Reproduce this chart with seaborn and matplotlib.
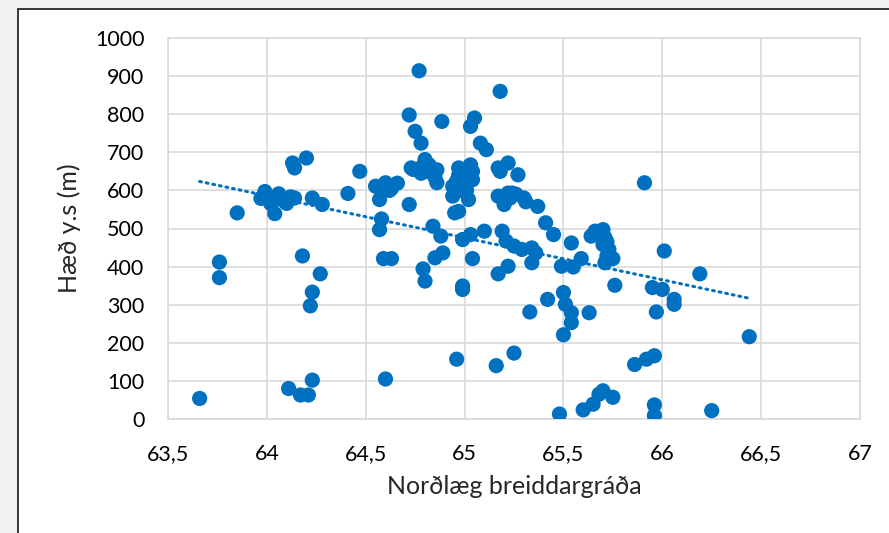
import numpy as np
import matplotlib
matplotlib.use("Agg")
import matplotlib.pyplot as plt
from matplotlib.ticker import FuncFormatter, MultipleLocator
from matplotlib.patches import Rectangle
import seaborn as sns

# ── Data ──────────────────────────────────────────────────
lat = [
    63.66, 63.76, 63.76, 63.85,
    63.97, 63.99, 64.02, 64.04, 64.06, 64.08, 64.10, 64.12, 64.14,
    64.13, 64.14, 64.20, 64.23, 64.28, 64.18, 64.27, 64.23, 64.22,
    64.11, 64.17, 64.21, 64.23, 64.41, 64.47,
    64.55, 64.57, 64.58, 64.60, 64.62, 64.66, 64.58, 64.57, 64.59, 64.63, 64.60,
    64.72, 64.77, 64.75, 64.78, 64.80, 64.73, 64.76, 64.82, 64.86, 64.78,
    64.86, 64.85, 64.72, 64.885, 64.84, 64.88, 64.79, 64.80, 64.85, 64.89,
    64.97, 64.94, 64.94, 64.97, 64.99, 64.97, 64.95, 64.99, 64.99, 64.96, 64.99,
    65.03, 65.04, 65.02, 65.01, 65.03, 65.10, 65.04, 65.05, 65.03, 65.08, 65.11,
    65.18, 65.17, 65.22, 65.27, 65.17, 65.20, 65.22, 65.24, 65.30, 65.31,
    65.37, 65.41, 65.45, 65.19, 65.21, 65.25, 65.29, 65.34, 65.36, 65.34,
    65.22, 65.17, 65.33, 65.42, 65.16, 65.25, 65.48,
    65.54, 65.49, 65.55, 65.59, 65.50, 65.51, 65.54, 65.54, 65.50, 65.63,
    65.66, 65.70, 65.64, 65.71, 65.70, 65.73, 65.72, 65.75, 65.71, 65.76,
    65.91, 65.95, 66.00, 65.97, 65.86, 65.92, 65.96,
    65.60, 65.65, 65.70, 65.75, 65.68, 65.96, 65.96,
    66.01, 66.06, 66.06, 66.19, 66.25, 66.44,
    # points hidden inside the dense clusters
    64.00, 64.05, 64.09, 64.59, 64.63, 64.74, 64.79, 64.81, 64.84, 64.96,
    64.98, 65.00, 65.02, 65.04, 65.18, 65.23, 65.26, 65.68, 65.72,
]
height = [
    54, 412, 371, 541,
    579, 597, 565, 539, 591, 575, 566, 583, 580,
    672, 659, 685, 580, 563, 428, 381, 333, 297,
    80, 63, 63, 102, 592, 650,
    611, 576, 598, 620, 600, 619, 525, 497, 421, 421, 105,
    798, 914, 755, 724, 681, 659, 654, 667, 654, 645,
    620, 635, 563, 781, 506, 480, 394, 362, 423, 436,
    659, 611, 585, 640, 620, 545, 541, 349, 340, 157, 471,
    667, 628, 576, 600, 484, 493, 421, 790, 768, 724, 707,
    860, 659, 672, 641, 585, 563, 593, 593, 580, 570,
    558, 515, 484, 493, 467, 454, 445, 449, 436, 410,
    401, 381, 281, 314, 140, 173, 13,
    462, 401, 399, 421, 332, 301, 279, 253, 221, 279,
    493, 497, 480, 476, 458, 445, 428, 421, 410, 351,
    620, 345, 340, 281, 143, 157, 166,
    24, 39, 74, 57, 65, 37, 9,
    441, 314, 301, 381, 22, 216,
    585, 580, 572, 608, 605, 655, 665, 650, 645, 625,
    600, 615, 640, 650, 650, 580, 590, 488, 465,
]

x_ticks = [63.5, 64, 64.5, 65, 65.5, 66, 66.5, 67]
y_ticks = list(range(0, 1001, 100))

BLUE = "#0070C0"
GRID = "#D9D9D9"

sns.set_theme(style="whitegrid")
plt.rcParams["font.family"] = ["Lato", "DejaVu Sans"]

fig = plt.figure(figsize=(8.89, 5.33), dpi=100, facecolor="#F2F2F2")
# white chart area with dark frame
fig.patches.append(Rectangle((18 / 889, -0.05), 1.0, 1 - 8.5 / 533 + 0.05,
                             transform=fig.transFigure, facecolor="white",
                             edgecolor="#262626", linewidth=1.3, zorder=-10))

ax = fig.add_axes([168 / 889, 1 - 419 / 533, (860 - 168) / 889, (419 - 38) / 533])
ax.set_facecolor("white")

sns.scatterplot(x=lat, y=height, ax=ax, color=BLUE, s=120, edgecolor="none",
                linewidth=0, alpha=1, zorder=3)

# linear trendline (as Excel does: from min x to max x)
xa = np.array(lat)
k, m = np.polyfit(xa, np.array(height), 1)
xs = np.array([xa.min(), xa.max()])
ax.plot(xs, k * xs + m, color=BLUE, lw=2.2, linestyle=(0, (0.6, 1.6)),
        dash_capstyle="round", zorder=2)

ax.set_xlim(63.5, 67)
ax.set_ylim(0, 1000)
ax.xaxis.set_major_locator(MultipleLocator(0.5))
ax.yaxis.set_major_locator(MultipleLocator(100))
ax.xaxis.set_major_formatter(FuncFormatter(lambda v, p: f"{v:g}".replace(".", ",")))
ax.yaxis.set_major_formatter(FuncFormatter(lambda v, p: f"{v:.0f}"))
ax.grid(True, color=GRID, linewidth=1.2)
for s in ax.spines.values():
    s.set_color(GRID)
    s.set_linewidth(1.2)
ax.tick_params(axis="both", length=0, labelsize=15.5, colors="black")
ax.tick_params(axis="x", pad=18)
ax.tick_params(axis="y", pad=17)

ax.set_xlabel("Norðlæg breiddargráða", fontsize=18, labelpad=8)
ax.set_ylabel("Hæð y.s (m)", fontsize=18, labelpad=10)

fig.savefig("out.png", dpi=100, facecolor=fig.get_facecolor())
